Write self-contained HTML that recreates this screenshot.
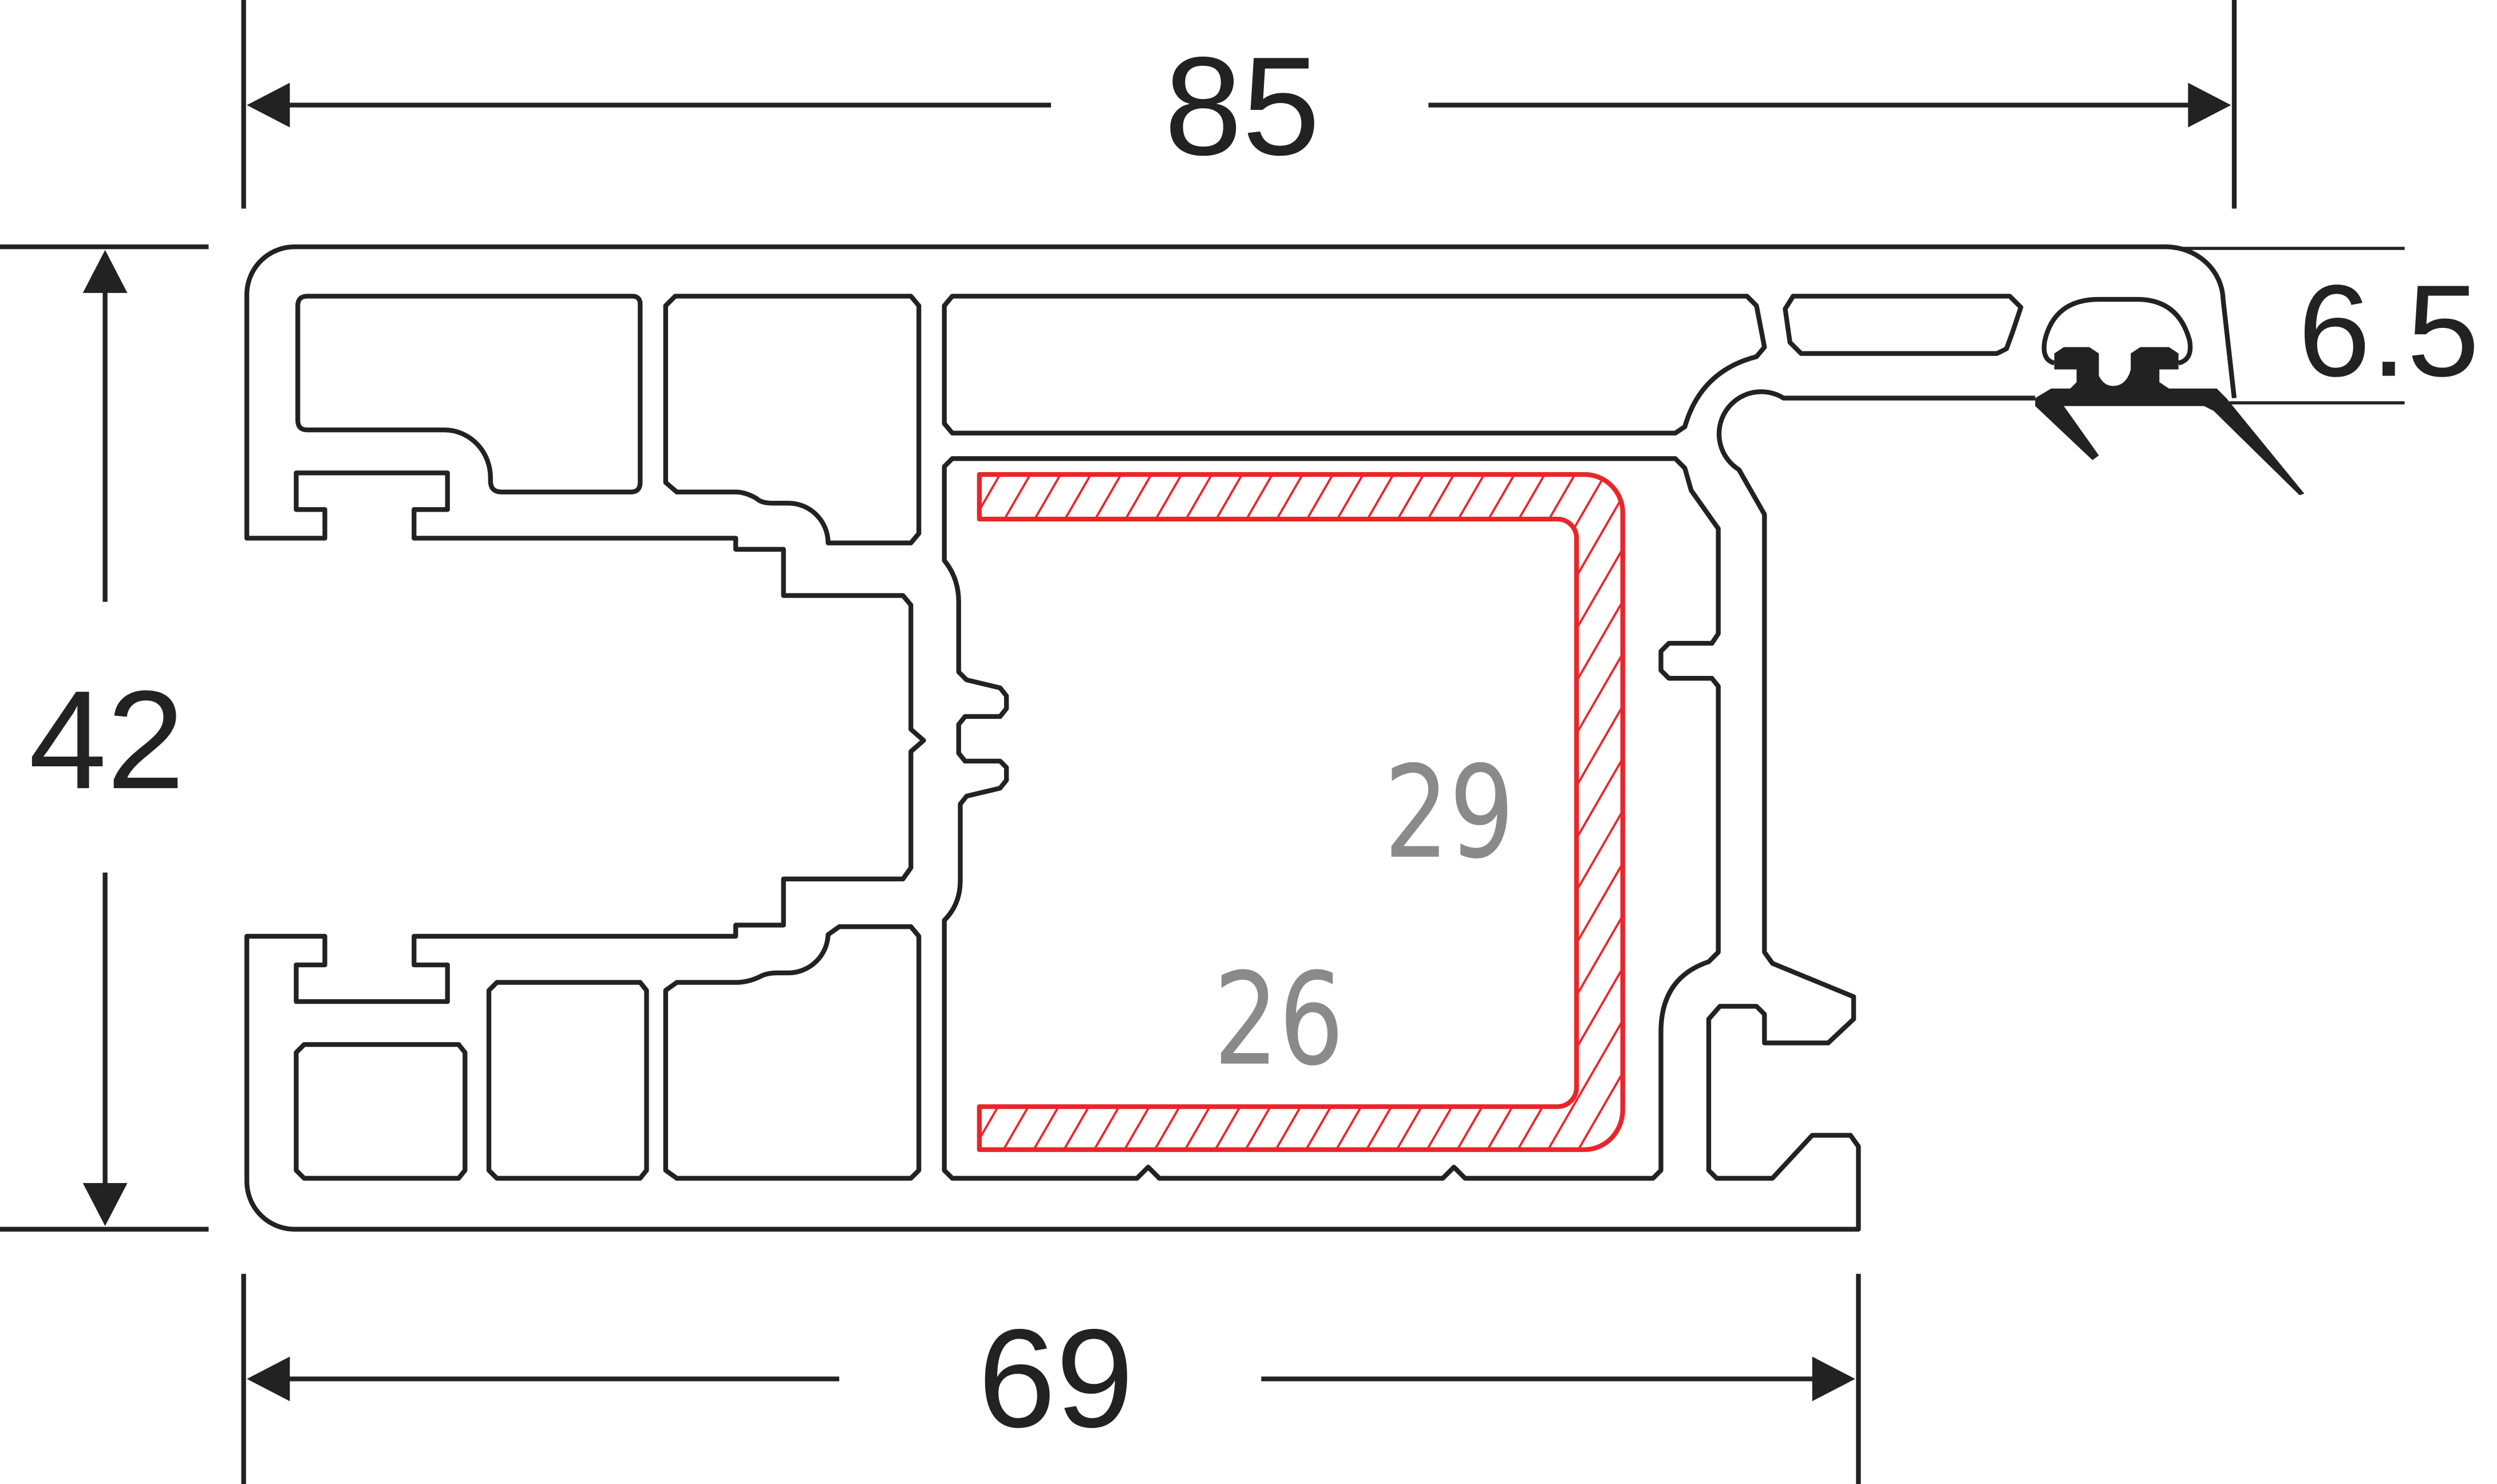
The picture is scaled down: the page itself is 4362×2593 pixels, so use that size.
<!DOCTYPE html>
<html><head><meta charset="utf-8"><style>html,body{margin:0;padding:0;background:#fff}svg{display:block}</style></head>
<body>
<svg width="4362" height="2593" viewBox="0 0 1568 932" preserveAspectRatio="none" xmlns="http://www.w3.org/2000/svg">
<defs>
<pattern id="h" patternUnits="userSpaceOnUse" width="19" height="40" patternTransform="skewX(-30)">
<line x1="2" y1="0" x2="2" y2="40" stroke="#e8262a" stroke-width="1.6"/>
</pattern>
</defs>
<g fill="none" stroke="#222" stroke-width="3" stroke-linejoin="round">
<line x1="153" y1="0" x2="153" y2="131"/><line x1="1403" y1="0" x2="1403" y2="131"/>
<line x1="170" y1="66" x2="660" y2="66"/><line x1="897" y1="66" x2="1385" y2="66"/>
<line x1="0" y1="155" x2="131" y2="155"/><line x1="0" y1="772" x2="131" y2="772"/>
<line x1="66" y1="170" x2="66" y2="378"/><line x1="66" y1="548" x2="66" y2="755"/>
<line x1="153" y1="800" x2="153" y2="932"/><line x1="1167" y1="800" x2="1167" y2="932"/>
<line x1="170" y1="866" x2="527" y2="866"/><line x1="792" y1="866" x2="1150" y2="866"/>
<line x1="1365" y1="156" x2="1510" y2="156" stroke-width="2"/><line x1="1400" y1="253" x2="1510" y2="253" stroke-width="2"/>
<path d="M185,155 H1360 A36,34 0 0 1 1396,188 L1403,250 M1278,250 H1120 A24,24 0 0 0 1092,295 L1108,323 V598 L1113,605 L1164,626 V640 L1148,655 H1108 V637 L1103,632 H1080 L1073,640 V735 L1078,740 H1113 L1138,713 H1162 L1167,720 V772 H185 A30,30 0 0 1 155,742 V588 H204 V606 H186 V629 H281 V606 H260 V588 H462 V581 H492 V552 H567 L572,545 V472 L580,465 L572,458 V380 L567,374 H492 V345 H462 V338 H260 V320 H281 V297 H186 V320 H204 V338 H155 V185 A30,30 0 0 1 185,155"/>
<path d="M193,186 H397 Q402,186 402,191 V303 Q402,309 396,309 H315 Q308,309 308,302 V300 A29,30 0 0 0 279,270 H193 Q187,270 187,264 V192 Q187,186 193,186 Z"/>
<path d="M424,186 H572 L577,192 V335 L572,341 H520 A25,25 0 0 0 495,316 H485 Q478,316 475,313 Q468,309 462,309 H425 L418,303 V192 Z"/>
<path d="M598,186 H1097 L1103,192 L1108,218 L1103,224 Q1068,233 1058,268 L1052,272 H598 L593,266 V192 Z"/>
<path d="M1126,186 H1262 L1269,193 L1264,208 L1260,219 L1254,222 H1131 L1124,215 L1121,194 Z"/>
<path d="M598,288 H1052 L1058,294 L1062,308 L1079,332 V398 L1075,404 H1048 L1043,409 V421 L1048,426 H1075 L1079,431 V598 L1073,604 Q1043,614 1043,648 V735 L1038,740 H920 L913,733 L906,740 H728 L721,733 L714,740 H598 L593,735 V578 Q603,568 603,553 V505 L607,500 L628,495 L632,490 V482 L628,478 H606 L602,473 V455 L606,450 H628 L632,445 V437 L628,432 L607,427 L602,422 V378 Q602,363 593,352 V293 Z"/>
<path d="M191,656 H288 L292,661 V735 L288,740 H191 L186,735 V661 Z"/>
<path d="M312,617 H402 L406,622 V735 L402,740 H312 L307,735 V622 Z"/>
<path d="M425,617 H462 Q470,617 478,613 Q482,611 488,611 H495 A25,25 0 0 0 520,587 L527,582 H572 L577,588 V735 L572,740 H425 L418,735 V622 Z"/>
</g>
<g fill="#222">
<polygon points="155,66 182,52 182,80"/><polygon points="1401,66 1374,52 1374,80"/>
<polygon points="66,157 52,184 80,184"/><polygon points="66,770 52,743 80,743"/>
<polygon points="155,866 182,852 182,880"/><polygon points="1165,866 1138,852 1138,880"/>
<path d="M1278,250 L1288,244 H1300 L1304,240 V232 H1290 V222 L1296,218 H1312 L1318,222 V236 Q1322,244 1330,242 Q1336,240 1338,232 V222 L1344,218 H1362 L1368,222 V232 H1356 V240 L1362,244 H1392 L1398,250 L1447,310 L1444,311 L1390,258 L1384,255 H1296 L1318,286 L1314,289 L1278,255 Z"/>
</g>
<path d="M1290,228 Q1282,226 1284,214 Q1290,188 1318,188 H1342 Q1368,188 1375,214 Q1377,226 1368,228" fill="none" stroke="#222" stroke-width="3"/>
<path d="M615,298 H995 A24,24 0 0 1 1019,322 V697 A24,25 0 0 1 995,722 H615 V695 H978 A12,12 0 0 0 990,683 V338 A12,12 0 0 0 978,326 H615 Z" fill="url(#h)" stroke="#e8262a" stroke-width="3" stroke-linejoin="round"/>
<g font-family="Liberation Sans, sans-serif" fill="#222">
<text x="780" y="97" font-size="88" text-anchor="middle">85</text>
<text x="67" y="495" font-size="88" text-anchor="middle">42</text>
<text x="663" y="896" font-size="88" text-anchor="middle">69</text>
<text x="1500" y="236" font-size="82" text-anchor="middle">6.5</text>
</g>
<g font-family="DejaVu Sans, sans-serif" fill="#8a8a8a">
<text x="910" y="538" font-size="80" text-anchor="middle" textLength="82" lengthAdjust="spacingAndGlyphs">29</text>
<text x="803" y="668" font-size="80" text-anchor="middle" textLength="82" lengthAdjust="spacingAndGlyphs">26</text>
</g>
</svg>
</body></html>
